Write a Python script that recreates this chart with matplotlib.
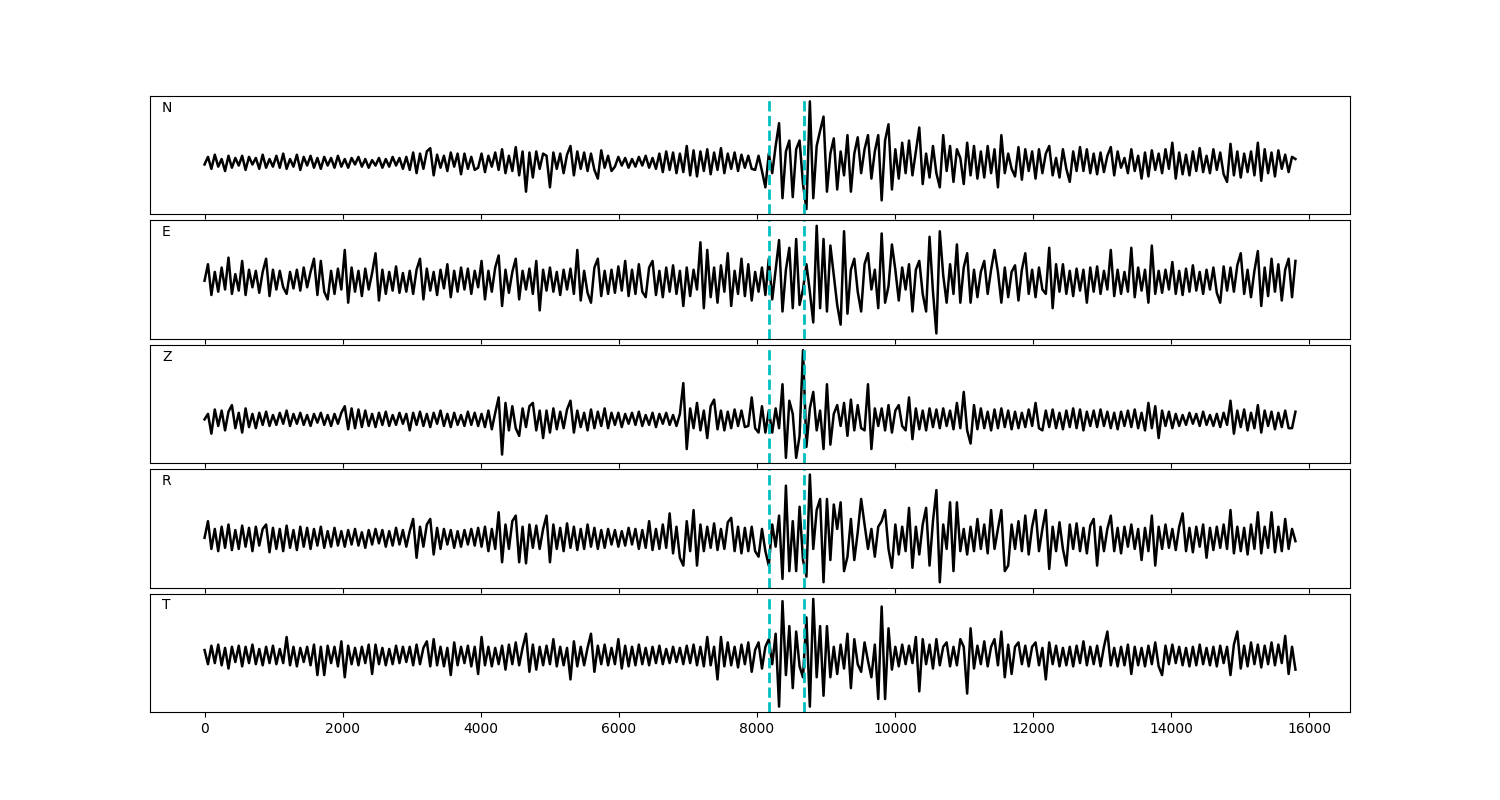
import numpy as np
import matplotlib
matplotlib.use("Agg")
import matplotlib.pyplot as plt

# waveforms, one value every ~50 samples
n_trace = [
    -2, 5, -6, 7, -4, 3, -8, 6, -5, 4, -3, 6, -7, 5, -2, 4, -6, 7, -5, 3,
    -4, 6, -5, 8, -6, 3, -4, 7, -7, 5, -3, 6, -5, 4, -6, 5, -3, 4, -5, 6,
    -4, 3, -5, 4, -2, 5, -4, 3, -5, 2, -3, 4, -5, 3, -4, 5, -3, 4, -6, 5,
    -7, 9, -10, 8, -6, 10, 13, -12, 7, -5, 6, -8, 9, -4, 8, -11, 8, -6, 5, -7,
    -5, 8, -9, 6, -4, 9, -7, 12, -10, 6, -8, 14, -12, 10, -27, 9, -14, 10, -6, 8,
    6, -23, 9, -6, 8, -10, 7, 15, -12, 10, -6, 9, -8, 8, -7, -15, 11, -5, 6, -8,
    -4, 5, -3, 4, -5, 3, -4, 5, -3, 6, -5, 4, -6, 8, -9, 10, -7, 9, -10, 8,
    -9, 15, -12, 11, -13, 10, -8, 12, -11, 9, -7, 13, -10, 8, -6, 9, -8, 7, -5, 6,
    -6, -7, 6, -8, -23, 8, -10, 15, 36, -33, 10, 20, -32, 12, 20, -20, -43, 56, -33, 15,
    29, 42, -27, 8, 22, -25, 10, -12, 25, -27, 8, 23, -10, 12, 25, -15, 10, 25, -35, 20,
    35, -25, 12, -15, 18, -10, 20, -12, 10, 32, -20, 8, -14, 15, -10, -23, 25, -8, 15, -18,
    12, 4, -20, 18, -12, 15, -15, 10, -14, 15, -10, 12, -23, 25, -10, 8, -6, -13, 14, -16,
    12, -8, 10, -15, 12, -10, 8, 15, -12, 4, -14, 12, -6, -18, 10, -8, 14, -8, 12, -10,
    8, -11, 9, -9, 6, 14, -12, 10, -5, 4, -10, 12, -8, 6, -15, 9, -13, 11, -7, 8,
    -10, 12, -6, 18, -15, 9, -11, 7, -12, 10, -8, 13, -9, 6, -10, 12, -7, 9, -11, -18,
    17, -12, 10, -14, 8, -9, 10, -12, 18, -17, 12, -10, 9, -13, 11, -6, 7, -9, 5, 3,
]

e_trace = [
    0, 15, -13, 8, -10, 12, -8, 21, -12, 6, -9, 18, -13, 10, -6, 9, -11, 8, 20, -14,
    10, -8, 9, -6, -12, 8, -7, 10, -9, 12, -6, 8, 20, -13, 18, -10, -17, 9, -12, 11,
    -8, 28, -20, 12, -10, 9, -14, 11, -8, 7, 25, -18, 10, -12, 8, -9, 13, -11, 7, -10,
    9, -12, 10, 20, -17, 11, -9, 8, -13, 10, -7, 15, -15, 9, -10, 12, -8, 11, -12, 9,
    -6, 18, -17, 9, -10, 12, 23, -23, 10, -11, 8, 20, -17, 9, -8, 11, -12, 18, -27, 10,
    -9, 12, -10, 8, -13, 10, -8, 11, -12, 28, -18, 9, -11, -20, 12, 20, -14, 9, -12, 10,
    -11, 13, -9, 18, -14, 10, -12, 15, -10, -15, 12, 18, -13, 9, -15, 12, -10, 14, -12, 9,
    -23, 12, -14, 10, -8, 35, -25, 28, -15, 12, -20, 14, -10, 25, -23, 9, -12, 20, -14, 15,
    -18, 8, -10, 12, -13, 20, -17, 10, 37, -28, 10, 30, -25, 38, -22, -8, 15, -10, -38, 50,
    -25, 38, -28, 32, 5, -22, -40, 45, -30, 10, 20, -10, -28, 15, 25, -8, 10, -25, 43, -20,
    -5, 33, 10, -18, 12, -8, 15, -28, 10, 18, -12, -28, 40, -10, -48, 45, 5, -20, 15, -12,
    33, -20, 12, 25, -20, 10, -15, 8, 18, -12, 10, 28, 8, -20, 12, -15, 8, 14, -18, 10,
    25, -12, 10, -15, 12, -8, -12, 30, -25, 15, -10, 15, -12, 9, -14, 11, -9, 10, -20, 12,
    -10, 13, -12, 9, -8, 28, -14, 10, -12, 8, -10, 30, -15, 12, -9, 10, -20, 32, -12, 9,
    -11, 10, -8, 17, -12, 9, -13, 11, -10, 14, -9, 8, -12, 10, -8, 12, -11, -20, 13, -9,
    12, -10, 14, 25, -12, 10, -15, 9, 27, -23, 12, -14, 20, -10, 15, -18, 10, 20, -15, 18,
]

z_trace = [
    0, 5, -13, 9, -6, 8, -10, 7, 13, -8, 6, -12, 10, -7, 5, -8, 6, -5, 7, -6,
    4, -5, 6, -4, 8, -6, 5, -4, 6, -5, 4, -6, 5, -3, 6, -5, 4, -6, 5, -4,
    6, 12, -9, 10, -8, 9, -7, 8, -6, 5, -7, 6, -5, 7, -6, 4, -5, 6, -4, 5,
    -10, 6, -5, 7, -6, 5, -7, 6, -4, 8, -6, 5, -7, 6, -5, 4, -6, 7, -5, 6,
    -6, 5, -7, 8, -9, 6, 20, -32, 15, -10, 12, -8, -15, 10, -7, 12, 15, -10, 8, -17,
    8, -12, 10, -9, 7, -8, 9, 17, -12, 8, -7, 6, -10, 9, -8, 7, -6, 10, -8, 6,
    -5, 6, -7, 5, -4, 6, -5, 7, -6, 4, -5, 6, -7, 5, -4, 6, -5, 4, -6, 5,
    33, -27, 10, -8, 15, -10, 8, -17, 12, 18, -9, 8, -10, 7, -8, 9, -6, 8, -7, -6,
    20, -8, -12, 12, -12, 8, -12, 10, -8, 32, -35, 17, 5, -35, -15, 63, -25, 10, 25, -10,
    8, -27, 32, -23, 5, 13, -6, 15, -15, 18, -10, 13, -8, -10, 32, -27, 10, -6, 10, -10,
    13, -12, 8, 13, -6, -10, 20, -18, 10, -9, 8, -10, 10, -7, 9, -8, 10, -6, 8, -9,
    15, -8, 25, -10, -22, 13, -9, 10, -8, 7, -10, 9, -8, 10, -7, 8, -9, 7, -8, 6,
    -7, 9, -6, 15, -8, -10, 8, -7, 9, -8, 6, -9, 8, -7, 10, -8, 9, -10, 7, -6,
    8, -7, 9, -6, 7, -8, 6, -9, 7, -6, 8, -7, 9, -8, 6, -10, 15, -8, 12, -17,
    8, -6, 7, -8, 5, -6, 4, -5, 6, -4, 5, -6, 7, -5, 4, -6, 5, -7, 6, -5,
    17, -13, 8, -7, 9, -10, 6, -8, 13, -12, 8, -6, 7, -9, 6, -7, 8, -8, -8, 7,
]

r_trace = [
    0, 15, -10, 8, -12, 10, -9, 12, -11, 7, -10, 11, -8, 9, -12, 10, -7, 8, 12, -13,
    9, -10, 8, -12, 11, -9, 7, -11, 10, -8, 9, -10, 8, -7, 10, -9, 6, -8, 9, -7,
    6, -8, 7, -6, 8, -7, 5, -9, 7, -6, 8, -5, 7, -8, 6, -7, 9, -6, 7, -8,
    6, 17, -18, 10, -8, 12, 17, -15, 9, -10, 8, -6, 7, -9, 6, -8, 7, -6, 8, -7,
    9, -8, 10, -12, 8, -10, 23, -22, 12, -10, 15, 20, -22, 10, -23, 12, -9, 11, -10, 8,
    20, -22, 12, -10, 9, -12, 13, -9, 10, -11, 8, -10, 12, -8, 9, -10, 7, -9, 8, -6,
    7, -8, 6, -7, 9, -6, 8, -10, 7, -9, 15, -11, 8, -10, 12, -9, 22, -14, 10, -18,
    -25, 15, -12, 25, -25, 12, -12, 10, -9, 13, -11, 8, -10, 14, 18, -12, 10, -14, 9, -12,
    10, -12, -17, 8, -12, -25, 12, -8, 20, -37, 47, -30, 15, -30, 28, -20, -35, 57, -10, 25,
    35, -40, 35, -20, 30, 8, 32, -30, -17, 17, -20, 5, 35, 12, -10, 8, -17, 10, 15, 25,
    -10, -27, 12, -15, 10, -12, 27, -27, 10, -15, 12, 27, -25, 15, 43, -40, 12, -10, 32, -30,
    32, -12, 8, -15, 10, -12, 17, -10, 12, -14, 25, -10, 8, 25, -30, -25, 12, -10, 15, -12,
    20, -15, 10, 25, -12, 8, 25, -28, 10, -12, 14, -10, -25, 12, -10, 13, -12, 9, -14, 11,
    17, -25, 10, -12, 8, 20, -12, 9, -14, 10, -8, 12, -10, 8, -20, 9, -12, 20, -25, 10,
    -10, 12, -9, 8, -11, 10, 22, -12, 9, -13, 10, -8, 12, -18, 9, -11, 10, -9, 12, -10,
    25, -14, 10, -12, 9, -15, 12, -10, 23, -14, 10, -9, 23, -13, 10, -12, 17, -10, 8, -3,
]

t_trace = [
    5, -8, 9, -7, 10, -9, 7, -12, 8, -6, 9, -10, 8, -7, 10, -8, 6, -9, 8, -7,
    9, -8, 6, -7, 17, -9, 8, -10, 7, -6, 8, -9, 10, -18, 8, -18, 9, -7, 8, -10,
    13, -20, 9, -8, 7, -9, 8, -7, 10, -17, 10, -8, 7, -9, 6, -8, 9, -7, 8, -6,
    8, -9, 10, -8, 7, 13, -10, 15, -9, 8, -10, 7, -18, 12, -9, 8, -7, 9, -10, 8,
    -17, 17, -9, 8, -10, 7, -8, 9, -13, 10, -8, 12, -9, 7, 20, -15, 10, -13, 8, -9,
    9, -8, 15, -10, 8, -9, 7, -22, 13, -10, 8, -9, 7, 20, -15, 9, -8, 10, -9, 7,
    -8, 15, -12, 9, -10, 8, -9, 10, -8, 7, -9, 8, -7, 9, -8, 6, -7, 8, -6, 7,
    -8, 9, -7, 10, -9, 8, -10, 17, -9, 8, -22, 17, -10, 12, -9, 8, -11, 10, -8, 12,
    -15, 5, 12, -12, 8, 15, -8, 20, -47, 50, -18, 27, -30, 22, -10, -20, 35, -47, 52, -20,
    27, -37, 27, -20, 8, -17, 10, -12, 20, -30, 15, -8, -15, 12, -5, -20, 10, -40, 45, -40,
    25, -13, 8, -10, 10, -8, 9, -7, 17, -33, 15, -8, 10, -12, 15, -9, 8, 12, -10, 8,
    -9, 15, 8, -35, 25, -12, 9, -8, 13, -10, 8, 15, -9, 22, -20, 10, -17, 8, 12, -8,
    9, -10, 8, 12, -9, 7, -22, 12, -8, 9, -10, 7, -9, 8, -10, 9, -7, 13, -9, 8,
    -8, 9, -10, 8, 22, -9, 7, -10, 8, -9, 10, -17, 8, -9, 7, -10, 9, -8, 12, -10,
    -18, 9, -8, 10, -7, 8, -9, 7, -10, 8, -9, 10, -8, 7, -9, 8, -10, 9, -7, 8,
    -18, 10, 22, -12, 9, -10, 12, -8, 10, -11, 9, -8, 12, -9, 10, -7, 18, -17, 8, -13,
]

labels = ["N", "E", "Z", "R", "T"]
traces = [n_trace, e_trace, z_trace, r_trace, t_trace]
picks = [8180, 8680]
n_samples = 15800

fig, axes = plt.subplots(5, 1, sharex=True, figsize=(15, 8))
fig.subplots_adjust(left=0.1, right=0.9, top=0.88, bottom=0.11, hspace=0.05)

for ax, lab, tr in zip(axes, labels, traces):
    t = np.linspace(0, n_samples, len(tr))
    ax.plot(t, tr, color="k", lw=1.8)
    for p in picks:
        ax.axvline(p, color="c", ls="--", lw=2)
    ax.set_yticks([])
    ax.text(0.01, 0.9, lab, transform=ax.transAxes, va="center", fontsize=10)

plt.savefig("out.png", dpi=100)
